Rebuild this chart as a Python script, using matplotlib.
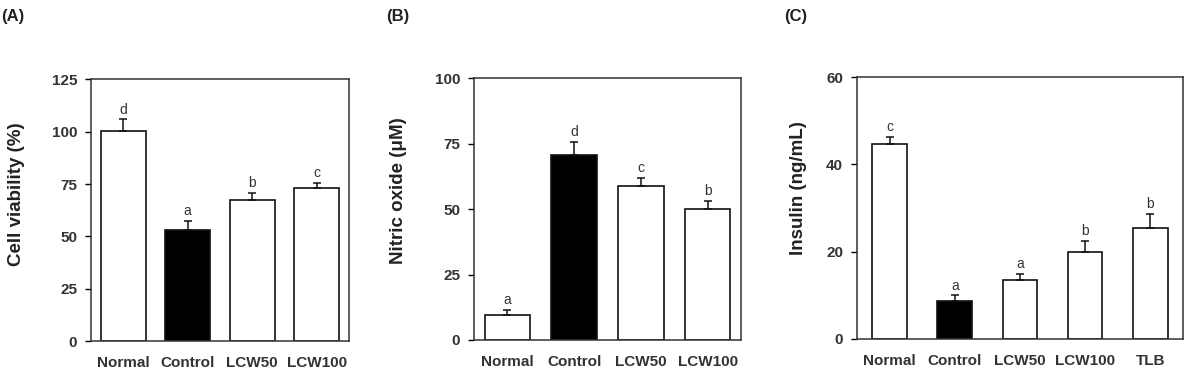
import numpy as np
import matplotlib.pyplot as plt

plt.rcParams['font.family'] = ['Liberation Sans', 'DejaVu Sans']

# (A) cell viability
groups_a = ['Normal', 'Control', 'LCW50', 'LCW100']
viability = [100.3, 52.9, 67.2, 73.1]
viability_err = [5.6, 4.5, 3.5, 2.6]
letters_a = ['d', 'a', 'b', 'c']

# (B) nitric oxide
groups_b = ['Normal', 'Control', 'LCW50', 'LCW100']
nitric = [9.4, 70.6, 58.9, 50.1]
nitric_err = [2.1, 5.0, 3.0, 3.1]
letters_b = ['a', 'd', 'c', 'b']

# (C) insulin
groups_c = ['Normal', 'Control', 'LCW50', 'LCW100', 'TLB']
insulin = [44.7, 8.7, 13.6, 20.0, 25.5]
insulin_err = [1.6, 1.3, 1.3, 2.5, 3.2]
letters_c = ['c', 'a', 'a', 'b', 'b']

fig = plt.figure(figsize=(11.85, 3.74), dpi=100)

panels = [
    ('(A)', groups_a, viability, viability_err, letters_a, 'Cell viability (%)',
     [0.0768, 0.088, 0.2177, 0.700], 125, 25, 0.70, 0.0, 66, 0.56),
    ('(B)', groups_b, nitric, nitric_err, letters_b, 'Nitric oxide (\u03bcM)',
     [0.400, 0.091, 0.2253, 0.700], 100, 25, 0.68, 0.325, 67, 0.57),
    ('(C)', groups_c, insulin, insulin_err, letters_c, 'Insulin (ng/mL)',
     [0.7232, 0.0936, 0.2750, 0.700], 60, 20, 0.53, 0.661, 50, 0.578),
]

for tag, groups, vals, errs, letters, ylab, rect, ymax, step, width, tagx, labpad, laby in panels:
    ax = fig.add_axes(rect)
    x = np.arange(len(groups))
    colors = ['white'] * len(groups)
    colors[1] = 'black'
    ax.bar(x, vals, width=width, color=colors, edgecolor='#111111', linewidth=1.2, zorder=2)
    ax.errorbar(x, vals, yerr=[np.zeros(len(vals)), errs], fmt='none',
                ecolor='#111111', elinewidth=1.1, capsize=3, capthick=1.1, zorder=3)
    for xi, v, e, lt in zip(x, vals, errs, letters):
        ax.annotate(lt, (xi, v + e), xytext=(0, 2), textcoords='offset points',
                    ha='center', va='bottom', fontsize=10, color='#333333')
    ax.set_xlim(-0.5, len(groups) - 0.5)
    ax.set_ylim(0, ymax)
    ax.set_yticks(np.arange(0, ymax + 1, step))
    ax.set_xticks(x)
    ax.set_xticklabels(groups, fontsize=11, fontweight='bold', color='#333333')
    ax.tick_params(axis='x', length=0, pad=11)
    ax.tick_params(axis='y', length=4, width=1, direction='out', labelsize=11,
                   labelcolor='#333333', pad=6)
    for lbl in ax.get_yticklabels():
        lbl.set_fontweight('bold')
    for sp in ax.spines.values():
        sp.set_linewidth(1.1)
        sp.set_color('#333333')
    ax.set_ylabel(ylab, fontsize=13.5, fontweight='bold', color='#222222')
    ax.yaxis.set_label_coords(-labpad / (rect[2] * 1185), laby)
    fig.text(tagx + 0.001, 0.955, tag, fontsize=12, fontweight='bold',
             ha='left', va='center', color='#222222')

fig.savefig('out.png', dpi=100)
